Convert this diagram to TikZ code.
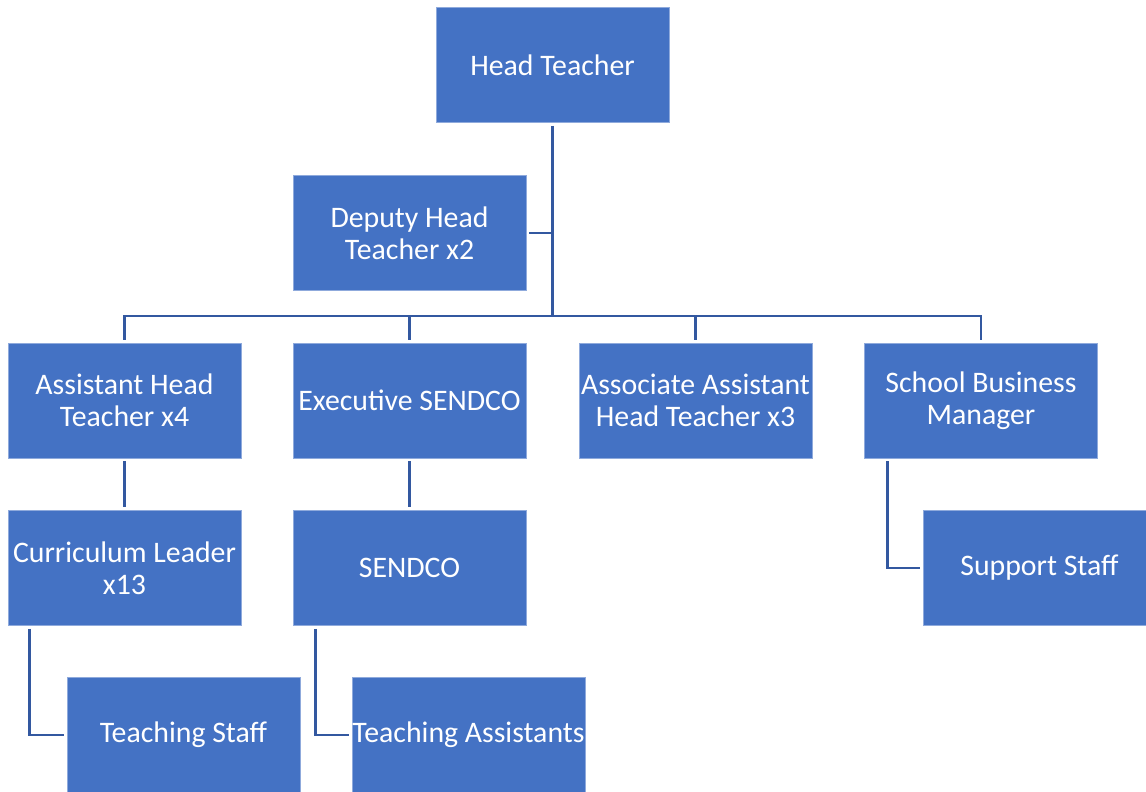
\documentclass[tikz,border=0pt]{standalone}
\usepackage{fontspec}
\setmainfont{Carlito}
\definecolor{boxblue}{HTML}{4472C4}
\definecolor{lineblue}{HTML}{3358A0}
\begin{document}
\begin{tikzpicture}[x=1pt,y=-1pt,
  orgbox/.style={rectangle,fill=boxblue,draw=boxblue!60!white,line width=0.6pt,text=white,
    minimum width=233pt,minimum height=115pt,inner sep=0pt,align=center,
    font=\fontsize{29.8}{32}\selectfont},
  conn/.style={draw=lineblue,line width=2.6pt}]
\useasboundingbox (0,0) rectangle (1146,792);
\fill[white] (0,0) rectangle (1146,792);
\begin{scope}
\clip (0,0) rectangle (1146,792);
\node[orgbox] (head) at (552.5,65) {Head Teacher};
\node[orgbox] (deputy) at (409.5,233) {Deputy Head\\Teacher x2};
\node[orgbox] (ah) at (124.5,400.5) {Assistant Head\\Teacher x4};
\node[orgbox] (exec) at (409.5,400.5) {Executive SENDCO};
\node[orgbox] (assoc) at (695.5,400.5) {Associate Assistant\\Head Teacher x3};
\node[orgbox] (sbm) at (981,400.5) {School Business\\Manager};
\node[orgbox] (cl) at (124.5,568) {Curriculum Leader\\x13};
\node[orgbox] (sendco) at (409.5,568) {SENDCO};
\node[orgbox] (support) at (1039.5,568) {Support Staff};
\node[orgbox] (ts) at (183.5,735) {Teaching Staff};
\node[orgbox] (ta) at (468.5,735) {Teaching Assistants};
\end{scope}
\coordinate (bus) at (552.5,316);
\draw[conn] ([yshift=-3pt]head.south) -- (bus);
\draw[conn] ([xshift=3pt]deputy.east) -- (deputy.east -| bus);
\draw[conn] ([yshift=3pt]ah.north) |- (bus);
\draw[conn] ([yshift=3pt]exec.north) |- (bus);
\draw[conn] ([yshift=3pt]assoc.north) |- (bus);
\draw[conn] ([yshift=3pt]sbm.north) |- (bus);
\draw[conn] ([yshift=-3pt]ah.south) -- ([yshift=3pt]cl.north);
\draw[conn] ([yshift=-3pt]exec.south) -- ([yshift=3pt]sendco.north);
\draw[conn] ([xshift=22pt,yshift=-3pt]cl.south west) |- ([xshift=-3pt]ts.west);
\draw[conn] ([xshift=23pt,yshift=-3pt]sendco.south west) |- ([xshift=-3pt]ta.west);
\draw[conn] ([xshift=23pt,yshift=-3pt]sbm.south west) |- ([xshift=-3pt]support.west);
\end{tikzpicture}
\end{document}
